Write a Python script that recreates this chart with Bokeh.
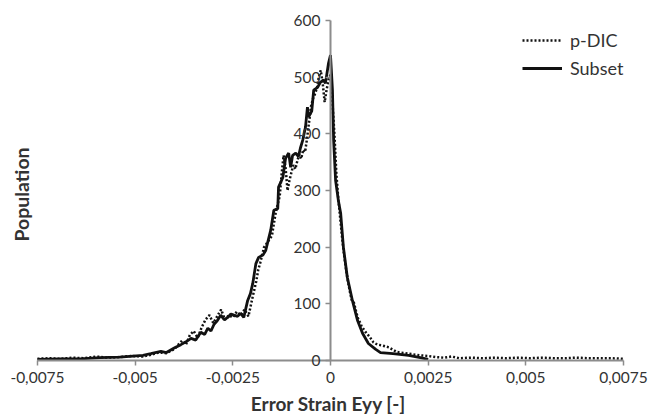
import math
from bokeh.plotting import figure
from bokeh.models import (FixedTicker, CustomJSTickFormatter, Legend, LegendItem, Range1d, Label)
from bokeh.embed import file_html
from bokeh.resources import INLINE

# ---- data ----
subset_x = [-0.0075, -0.0069, -0.0064, -0.0059, -0.0054, -0.0048, -0.0046, -0.00434, -0.0042,
            -0.0040, -0.00383, -0.0037, -0.00357, -0.00345, -0.00332, -0.00322, -0.00314, -0.00306,
            -0.00298, -0.0029, -0.00281, -0.00272, -0.00263, -0.00255, -0.00247, -0.00238, -0.0023,
            -0.00222, -0.00212, -0.00205, -0.00199, -0.00191, -0.00184, -0.00173, -0.00166, -0.00153,
            -0.00145, -0.00135, -0.00133, -0.00122, -0.00115, -0.00107, -0.00102, -0.00097, -0.00089,
            -0.00082, -0.00077, -0.00071, -0.00064, -0.00059, -0.00056, -0.00048, -0.00043, -0.00033,
            -0.00026, -0.00018, -0.00013, -0.00005, 0.0, 0.00005, 0.00008, 0.00013, 0.0002, 0.00026,
            0.00033, 0.00043, 0.00056, 0.00069, 0.00082, 0.00097, 0.00115, 0.00128, 0.0016, 0.002,
            0.0023, 0.0025]
subset_y = [2, 3, 3, 5, 6, 9, 12, 16, 14,
            22, 28, 33, 39, 36, 50, 46, 57, 52,
            64, 70, 80, 72, 76, 82, 80, 78, 83,
            76, 106, 118, 136, 171, 182, 186, 194, 230,
            265, 268, 306, 323, 357, 366, 341, 362, 366,
            360, 375, 389, 412, 447, 430, 440, 477, 482,
            491, 495, 489, 525, 539, 477, 389, 318, 283, 260,
            200, 147, 106, 71, 48, 30, 20, 14, 12, 9,
            5, 2]

pdic_x = [-0.0075, -0.0072, -0.0069, -0.0066, -0.0063, -0.0060, -0.0057, -0.0054, -0.0051, -0.0048,
          -0.0046, -0.0044, -0.0042, -0.0040, -0.0038, -0.0037, -0.0036, -0.0035, -0.0034, -0.0033,
          -0.0032, -0.0031, -0.0030, -0.0029, -0.0028, -0.0027, -0.0026, -0.0025, -0.0024, -0.0023,
          -0.0022, -0.0021, -0.0020, -0.0019, -0.00185, -0.0018, -0.0017, -0.0016, -0.0015, -0.0014,
          -0.0013, -0.00125, -0.0012, -0.00115, -0.0011, -0.00105, -0.0010, -0.00095, -0.0009, -0.00085,
          -0.0008, -0.00075, -0.0007, -0.00065, -0.0006, -0.00055, -0.0005, -0.00045, -0.0004, -0.00035,
          -0.0003, -0.00025, -0.0002, -0.00015, -0.0001, -0.00005, 0.0, 0.00005, 0.0001, 0.00015,
          0.0002, 0.00025, 0.0003, 0.00035, 0.0004, 0.00045, 0.0005, 0.00055, 0.0006, 0.00065,
          0.0007, 0.00075, 0.0008, 0.0009, 0.001, 0.0011, 0.0012, 0.0013, 0.0015, 0.0017,
          0.0019, 0.0021, 0.0023, 0.0025, 0.0027, 0.0029, 0.0031, 0.0033, 0.0036, 0.0039,
          0.0042, 0.0045, 0.0048, 0.0051, 0.0054, 0.0057, 0.006, 0.0063, 0.0066, 0.0069,
          0.0072, 0.0075]
pdic_y = [3, 4, 3, 5, 4, 7, 5, 6, 8, 7,
          10, 14, 13, 20, 35, 28, 45, 52, 40, 58,
          72, 80, 66, 78, 90, 72, 80, 76, 86, 80,
          90, 78, 110, 140, 160, 172, 200, 210, 220, 262,
          290, 330, 362, 340, 300, 318, 332, 345, 338, 352,
          364, 356, 372, 368, 392, 420, 448, 462, 470, 480,
          500, 512, 490, 456, 478, 495, 505, 455, 400, 330,
          285, 250, 215, 185, 160, 138, 120, 105, 102, 88,
          75, 68, 60, 50, 42, 32, 28, 27, 23, 15,
          13, 11, 9, 8, 6, 5, 7, 4, 5, 4,
          5, 4, 5, 4, 5, 4, 4, 5, 4, 4,
          4, 3]

x_ticks = [-0.0075, -0.005, -0.0025, 0, 0.0025, 0.005, 0.0075]
y_ticks = [0, 100, 200, 300, 400, 500, 600]

FONT = "Lato"
TXT = "#333333"
AX = "#8c8c8c"

# frame fills the canvas; axes are drawn at fixed data positions inside it
W, H = 656, 417
XL, XR = 37, 623      # pixel of x = -0.0075 / 0.0075
YB, YT = 360, 20      # pixel of y = 0 / 600
sx = (x_ticks[-1] - x_ticks[0]) / (XR - XL)
sy = (y_ticks[-1] - y_ticks[0]) / (YB - YT)
x_range = Range1d(x_ticks[0] - XL * sx, x_ticks[-1] + (W - XR) * sx)
y_range = Range1d(y_ticks[0] - (H - YB) * sy, y_ticks[-1] + YT * sy)

p = figure(width=W, height=H, output_backend="svg", toolbar_location=None,
           x_range=x_range, y_range=y_range,
           min_border_left=0, min_border_right=0, min_border_top=0, min_border_bottom=0)
p.outline_line_color = None
p.xgrid.visible = False
p.ygrid.visible = False

l1 = p.line(pdic_x, pdic_y, line_color="#111111", line_width=2.5, line_dash="2 2", line_cap="butt")
l2 = p.line(subset_x, subset_y, line_color="#111111", line_width=2.8)

# x axis at y = 0
xa = p.xaxis[0]
xa.fixed_location = 0
xa.bounds = (x_ticks[0], x_ticks[-1])
xa.ticker = FixedTicker(ticks=x_ticks)
xa.formatter = CustomJSTickFormatter(code="return tick == 0 ? '0' : String(tick).replace('.', ',');")
xa.major_label_text_font = FONT
xa.major_label_text_font_size = "15.5px"
xa.major_label_text_color = TXT
xa.major_label_standoff = 6
xa.axis_line_color = AX
xa.axis_line_width = 2
xa.major_tick_line_color = AX
xa.major_tick_line_width = 1.5
xa.major_tick_in = 0
xa.major_tick_out = 5
xa.minor_tick_line_color = None

# y axis at x = 0
ya = p.yaxis[0]
ya.fixed_location = 0
ya.bounds = (y_ticks[0], y_ticks[-1])
ya.ticker = FixedTicker(ticks=y_ticks)
ya.major_label_text_font = FONT
ya.major_label_text_font_size = "15.5px"
ya.major_label_text_color = TXT
ya.major_label_standoff = 5
ya.axis_line_color = AX
ya.axis_line_width = 2
ya.major_tick_line_color = AX
ya.major_tick_line_width = 1.5
ya.major_tick_in = 0
ya.major_tick_out = 5
ya.minor_tick_line_color = None

# axis titles
p.add_layout(Label(x=328, y=H - 403, x_units="screen", y_units="screen", text="Error Strain Eyy [-]",
                   text_font=FONT, text_font_style="bold", text_font_size="19px", text_color=TXT,
                   text_align="center", text_baseline="middle"))
p.add_layout(Label(x=21, y=H - 194, x_units="screen", y_units="screen", text="Population",
                   angle=math.pi / 2, text_font=FONT, text_font_style="bold", text_font_size="19.5px",
                   text_color=TXT, text_align="center", text_baseline="middle"))

legend = Legend(items=[LegendItem(label="p-DIC", renderers=[l1]),
                       LegendItem(label="Subset", renderers=[l2])],
                location=(522, H - 79), border_line_color=None, background_fill_alpha=0,
                label_text_font=FONT, label_text_font_size="18px", label_text_color=TXT,
                glyph_width=40, label_height=22, glyph_height=22, spacing=6, margin=0, padding=0,
                label_standoff=8)
p.add_layout(legend)

open("out.html", "w").write(file_html(p, INLINE))
